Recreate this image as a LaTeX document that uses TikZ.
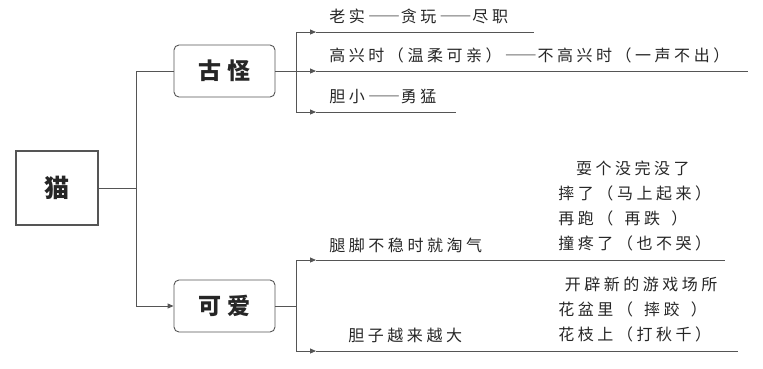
\documentclass[tikz,border=0pt]{standalone}
\usepackage{fontspec}
\setmainfont{Noto Sans CJK SC}[LetterSpace=22]
\usetikzlibrary{arrows.meta}
\definecolor{lncol}{HTML}{555555}
\definecolor{txtcol}{HTML}{262626}
\newcommand{\fdash}{\hspace{0.2em}{\addfontfeature{RawFeature=+fwid,LetterSpace=0}——}\hspace{0.05em}}

\begin{document}
\begin{tikzpicture}[x=1pt,y=-1pt,line width=0.9pt,draw=lncol,
  rootbox/.style={draw=lncol,line width=1.1pt,minimum width=82pt,minimum height=74pt,text=txtcol,font=\fontsize{25}{27}\selectfont\bfseries},
  blk/.style={draw=lncol,rounded corners=5pt,minimum width=101pt,minimum height=52pt,text=txtcol,font=\fontsize{23}{25}\selectfont\bfseries},
  txt/.style={anchor=west,inner sep=0pt,align=left,text=txtcol,font=\fontsize{16}{25}\selectfont},
  ar/.style={-{Triangle[length=6pt,width=5pt]}}]
\useasboundingbox (0,0) rectangle (763,368);
% main boxes
\node[rootbox] (cat) at (57,188) {猫};
\node[blk] (gg) at (224.5,71) {古怪};
\node[blk] (ka) at (224.5,306) {可爱};
% trunk
\coordinate (j0) at (136,188);
\draw (cat.east) -- (j0);
\draw (j0) |- (gg.west);
\draw[ar] (j0) |- (ka.west);
% branches of gg
\coordinate (j1) at (296,71);
\coordinate (a1) at (316,32);  \coordinate (e1) at (534,32);
\coordinate (a2) at (316,71);  \coordinate (e2) at (748,71);
\coordinate (a3) at (316,112); \coordinate (e3) at (456,112);
\draw (gg.east) -- (j1);
\draw[ar] (j1) |- (a1); \draw (a1) -- (e1);
\draw[ar] (j1) -- (a2); \draw (a2) -- (e2);
\draw[ar] (j1) |- (a3); \draw (a3) -- (e3);
\node[txt] (lsh) at (329,16) {老实\fdash 贪玩\fdash 尽职};
\node[txt] (gxs) at (329,55) {高兴时（温柔可亲）\fdash 不高兴时（一声不出）};
\node[txt] (dx) at (329,96) {胆小\fdash 勇猛};
% branches of ka
\coordinate (j2) at (296,306);
\coordinate (b1) at (316,260); \coordinate (f1) at (725,260);
\coordinate (b2) at (316,351); \coordinate (f2) at (738,351);
\draw (ka.east) -- (j2);
\draw[ar] (j2) |- (b1); \draw (b1) -- (f1);
\draw[ar] (j2) |- (b2); \draw (b2) -- (f2);
\node[txt] (tj) at (329,245) {腿脚不稳时就淘气};
\node[txt] (dz) at (348,335) {胆子越来越大};
\node[txt] (tq) at (558,205.5) {\hspace{1.1em}耍个没完没了\\摔了（马上起来）\\再跑（\hspace{0.7em}再跌\hspace{0.7em}）\\撞疼了（也不哭）};
\node[txt] (yx) at (558,310) {\hspace{0.4em}开辟新的游戏场所\\花盆里（\hspace{0.7em}摔跤\hspace{0.7em}）\\花枝上（打秋千）};
\end{tikzpicture}
\end{document}
